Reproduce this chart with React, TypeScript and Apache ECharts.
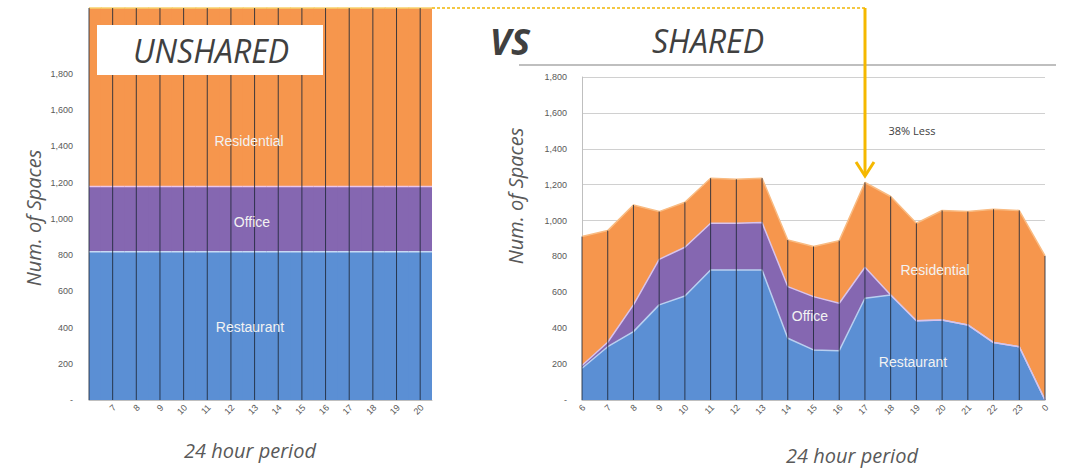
import React, { useEffect, useRef } from "react";
import * as echarts from "echarts";

// ---- Unshared (left) ----
const unsharedHours = [6, 7, 8, 9, 10, 11, 12, 13, 14, 15, 16, 17, 18, 19, 20];
const unsharedRestaurant = [818, 818, 818, 818, 818, 818, 818, 818, 818, 818, 818, 818, 818, 818, 818];
const unsharedOffice = [360, 360, 360, 360, 360, 360, 360, 360, 360, 360, 360, 360, 360, 360, 360];
const unsharedResidential = [985, 985, 985, 985, 985, 985, 985, 985, 985, 985, 985, 985, 985, 985, 985];
const unsharedTickLabels = ["7", "8", "9", "10", "11", "12", "13", "14", "15", "16", "17", "18", "19", "20"];

// ---- Shared (right) ----
const sharedHours = ["6", "7", "8", "9", "10", "11", "12", "13", "14", "15", "16", "17", "18", "19", "20", "21", "22", "23", "0"];
const sharedRestaurant = [177, 297, 381, 530, 580, 725, 725, 725, 344, 279, 275, 567, 585, 442, 446, 418, 320, 297, 0];
const sharedOffice = [15, 25, 149, 254, 271, 260, 260, 264, 288, 297, 264, 173, 0, 0, 0, 0, 0, 0, 0];
const sharedResidential = [719, 622, 557, 266, 251, 251, 245, 247, 260, 279, 349, 472, 549, 543, 610, 632, 743, 759, 803];

const yTicksMaxShown = 1800;

const BLUE = "#5b8fd4";
const PURPLE = "#8567b1";
const ORANGE = "#f6964d";
const LABEL_GRAY = "#595959";
const TITLE_GRAY = "#404040";

const fmtY = (v: number) => (v === 0 ? "-" : v > yTicksMaxShown ? "" : v.toLocaleString("en-US"));

export default function App() {
  const ref = useRef<HTMLDivElement>(null);

  useEffect(() => {
    if (!ref.current) return;
    const chart = echarts.init(ref.current, undefined, { renderer: "svg" });

    const unsharedTotals = unsharedHours.map(
      (_, i) => unsharedRestaurant[i] + unsharedOffice[i] + unsharedResidential[i]
    );
    const sharedTotals = sharedHours.map(
      (_, i) => sharedRestaurant[i] + sharedOffice[i] + sharedResidential[i]
    );
    const leftMax = unsharedTotals[0];

    const dividerRender = (params: any, api: any) => {
      const x = api.value(0);
      const top = api.value(1);
      const p0 = api.coord([x, 0]);
      const p1 = api.coord([x, top]);
      return {
        type: "line",
        shape: { x1: p0[0], y1: p0[1], x2: p1[0], y2: p1[1] },
        style: { stroke: "#1e2838", lineWidth: 1, opacity: 0.85 },
      };
    };

    // rotated tick labels placed through the axis scale
    const makeTickRender = (labels: string[]) => (params: any, api: any) => {
      const p = api.coord([api.value(0), 0]);
      return {
        type: "text",
        x: p[0] + 2,
        y: p[1] + 6,
        rotation: Math.PI / 4,
        style: {
          text: labels[params.dataIndex],
          align: "right",
          verticalAlign: "middle",
          fontSize: 9,
          fill: LABEL_GRAY,
          fontFamily: "Liberation Sans, Arial, sans-serif",
        },
      };
    };

    // Unshared stacked columns: one hour-wide block per hour, three layers
    const blockRender = (params: any, api: any) => {
      const h = api.value(0);
      const r = api.value(1);
      const o = api.value(2);
      const s = api.value(3);
      const cs = params.coordSys;
      const clipBox = { x: cs.x, y: cs.y, width: cs.width, height: cs.height };
      const layer = (v0: number, v1: number, color: string) => {
        const a = api.coord([h - 0.5, v1]);
        const b = api.coord([h + 0.5, v0]);
        const rect = echarts.graphic.clipRectByRect(
          { x: a[0], y: a[1], width: b[0] - a[0] + 1, height: b[1] - a[1] },
          clipBox
        );
        return rect ? { type: "rect", shape: rect, style: { fill: color } } : null;
      };
      const edge = (v: number, color: string) => {
        const a = api.coord([h - 0.5, v]);
        const b = api.coord([h + 0.5, v]);
        const x1 = Math.max(a[0], cs.x);
        const x2 = Math.min(b[0] + 1, cs.x + cs.width);
        return {
          type: "line",
          shape: { x1, y1: a[1], x2, y2: a[1] },
          style: { stroke: color, lineWidth: 1.5 },
        };
      };
      const children = [
        layer(0, r, BLUE),
        layer(r, r + o, PURPLE),
        layer(r + o, r + o + s, ORANGE),
        edge(r, "#c8daf4"),
        edge(r + o, "#ecc6ea"),
        edge(r + o + s, "#f7d26e"),
      ].filter(Boolean);
      return { type: "group", children };
    };

    const txt = (x: number, y: number, text: string, style: any, extra: any = {}) => ({
      type: "text",
      x,
      y,
      z: 100,
      ...extra,
      style: { text, textAlign: "center", textVerticalAlign: "middle", ...style },
    });

    const seriesLabelStyle = {
      fill: "#f2f2f2",
      fontSize: 14,
      fontFamily: "Liberation Sans, Arial, sans-serif",
    };
    const axisTitleStyle = {
      fill: LABEL_GRAY,
      fontSize: 20,
      fontStyle: "italic",
      fontFamily: "Open Sans, sans-serif",
    };
    const tickLabel = {
      fontSize: 9,
      color: LABEL_GRAY,
      fontFamily: "Liberation Sans, Arial, sans-serif",
    };

    chart.setOption({
      animation: false,
      backgroundColor: "#ffffff",
      grid: [
        { left: 89, top: 8, width: 343, height: 392 },
        { left: 582, top: 77, width: 463, height: 323 },
      ],
      xAxis: [
        {
          gridIndex: 0,
          type: "value",
          min: 6,
          max: 20.5,
          interval: 1,
          splitLine: { show: false },
          axisTick: { show: false },
          axisLine: { show: true, lineStyle: { color: "#bfbfbf" } },
          axisLabel: { show: false },
        },
        {
          gridIndex: 1,
          type: "category",
          data: sharedHours,
          boundaryGap: false,
          axisTick: { show: false },
          axisLine: { show: true, lineStyle: { color: "#bfbfbf" } },
          axisLabel: { show: false },
        },
      ],
      yAxis: [
        {
          gridIndex: 0,
          type: "value",
          min: 0,
          max: leftMax,
          interval: 200,
          splitLine: { show: false },
          axisTick: { show: false },
          axisLine: { show: true, lineStyle: { color: "#bfbfbf" } },
          axisLabel: { ...tickLabel, margin: 16, formatter: fmtY },
        },
        {
          gridIndex: 1,
          type: "value",
          min: 0,
          max: 1800,
          interval: 200,
          splitLine: { show: true, lineStyle: { color: "#d0d0d0", width: 1 } },
          axisTick: { show: false },
          axisLine: { show: true, lineStyle: { color: "#bfbfbf" } },
          axisLabel: { ...tickLabel, margin: 15, formatter: fmtY },
        },
      ],
      series: [
        {
          type: "custom",
          xAxisIndex: 0,
          yAxisIndex: 0,
          z: 2,
          renderItem: blockRender,
          encode: { x: 0, y: 1 },
          data: unsharedHours.map((h, i) => [
            h,
            unsharedRestaurant[i],
            unsharedOffice[i],
            unsharedResidential[i],
          ]),
        },
        {
          type: "custom",
          xAxisIndex: 0,
          yAxisIndex: 0,
          z: 5,
          renderItem: dividerRender,
          data: unsharedHours.map((h, i) => [h, unsharedTotals[i]]),
        },
        {
          type: "custom",
          xAxisIndex: 0,
          yAxisIndex: 0,
          z: 5,
          clip: false,
          renderItem: makeTickRender(unsharedTickLabels),
          data: unsharedTickLabels.map((l) => [Number(l), 0]),
        },
        {
          name: "Restaurant",
          type: "line",
          xAxisIndex: 1,
          yAxisIndex: 1,
          stack: "shared",
          symbol: "none",
          data: sharedRestaurant,
          lineStyle: { color: "#b9cff0", width: 1.5 },
          areaStyle: { color: BLUE, opacity: 1 },
        },
        {
          name: "Office",
          type: "line",
          xAxisIndex: 1,
          yAxisIndex: 1,
          stack: "shared",
          symbol: "none",
          data: sharedOffice,
          lineStyle: { color: "#d8c3ec", width: 1.5 },
          areaStyle: { color: PURPLE, opacity: 1 },
        },
        {
          name: "Residential",
          type: "line",
          xAxisIndex: 1,
          yAxisIndex: 1,
          stack: "shared",
          symbol: "none",
          data: sharedResidential,
          lineStyle: { color: "#f9bb82", width: 1.5 },
          areaStyle: { color: ORANGE, opacity: 1 },
        },
        {
          type: "custom",
          xAxisIndex: 1,
          yAxisIndex: 1,
          z: 5,
          renderItem: dividerRender,
          data: sharedHours.map((_, i) => [i, sharedTotals[i]]),
        },
        {
          type: "custom",
          xAxisIndex: 1,
          yAxisIndex: 1,
          z: 5,
          clip: false,
          renderItem: makeTickRender(sharedHours),
          data: sharedHours.map((_, i) => [i, 0]),
        },
      ],
      graphic: [
        {
          type: "rect",
          z: 99,
          shape: { x: 97, y: 25, width: 226, height: 50 },
          style: { fill: "#ffffff" },
        },
        txt(211, 50, "UNSHARED", {
          fill: TITLE_GRAY,
          fontSize: 32,
          fontStyle: "italic",
          fontFamily: "Open Sans, sans-serif",
        }),
        txt(510, 41, "VS", {
          fill: TITLE_GRAY,
          fontSize: 36,
          fontStyle: "italic",
          fontWeight: "bold",
          fontFamily: "Open Sans, sans-serif",
        }),
        txt(708, 40, "SHARED", {
          fill: TITLE_GRAY,
          fontSize: 32,
          fontStyle: "italic",
          fontFamily: "Open Sans, sans-serif",
        }),
        {
          type: "line",
          z: 99,
          shape: { x1: 519, y1: 65, x2: 1056, y2: 65 },
          style: { stroke: "#bfbfbf", lineWidth: 2 },
        },
        {
          type: "line",
          z: 99,
          shape: { x1: 432, y1: 8, x2: 865, y2: 8 },
          style: { stroke: "#f2b705", lineWidth: 1.5, lineDash: [3, 2] },
        },
        {
          type: "line",
          z: 99,
          shape: { x1: 865, y1: 8, x2: 865, y2: 176 },
          style: { stroke: "#f5b800", lineWidth: 3 },
        },
        {
          type: "polyline",
          z: 99,
          shape: { points: [[856, 162], [865, 176], [874, 162]] },
          style: { stroke: "#f5b800", lineWidth: 3, fill: "none" },
        },
        txt(912, 130, "38% Less", {
          fill: TITLE_GRAY,
          fontSize: 11,
          fontFamily: "Open Sans, sans-serif",
        }),
        txt(249, 141, "Residential", seriesLabelStyle),
        txt(252, 222, "Office", seriesLabelStyle),
        txt(250, 327, "Restaurant", seriesLabelStyle),
        txt(935, 270, "Residential", seriesLabelStyle),
        txt(810, 316, "Office", seriesLabelStyle),
        txt(913, 362, "Restaurant", seriesLabelStyle),
        txt(250, 450, "24 hour period", axisTitleStyle),
        txt(852, 455, "24 hour period", axisTitleStyle),
        txt(33, 218, "Num. of Spaces", axisTitleStyle, { rotation: Math.PI / 2 }),
        txt(515, 196, "Num. of Spaces", axisTitleStyle, { rotation: Math.PI / 2 }),
      ],
    });

    return () => chart.dispose();
  }, []);

  return (
    <div
      ref={ref}
      style={{ position: "absolute", left: 0, top: 0, width: 1068, height: 469, background: "#fff" }}
    />
  );
}
